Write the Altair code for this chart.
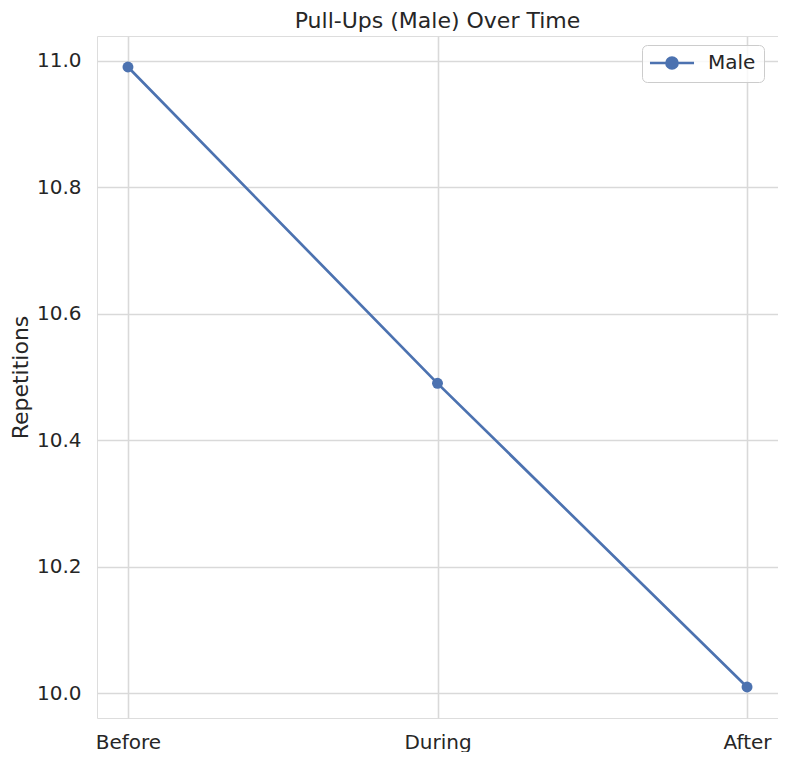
import altair as alt
import pandas as pd

phases = ["Before", "During", "After"]
values = [10.99, 10.49, 10.01]
series = ["Male", "Male", "Male"]
y_ticks = [10.0, 10.2, 10.4, 10.6, 10.8, 11.0]

df = pd.DataFrame({"Phase": phases, "Repetitions": values, "Series": series})

BLUE = "#4c72b0"
FONT = "DejaVu Sans"
TXT = "#262626"

x = alt.X("Phase:N", sort=phases, title=None,
          scale=alt.Scale(type="point", padding=0.1),
          axis=alt.Axis(labelAngle=0, ticks=False, domain=False, labelPadding=14,
                        labelFontSize=20, labelColor=TXT, labelFont=FONT,
                        grid=True, gridColor="#d9d9d9", gridWidth=1.6))
y = alt.Y("Repetitions:Q", title="Repetitions",
          scale=alt.Scale(domain=[9.961, 11.039], nice=False, zero=False),
          axis=alt.Axis(values=y_ticks, format=".1f", ticks=False, domain=False,
                        labelPadding=16, labelFontSize=20, labelColor=TXT, labelFont=FONT,
                        titleFontSize=22, titleFont=FONT, titleColor=TXT,
                        titleFontWeight="normal", titlePadding=4,
                        grid=True, gridColor="#d9d9d9", gridWidth=1.6))

sym = ("M-1.67,0L5.67,0"
       "M1.08,0A0.92,0.92 0 1,1 2.92,0A0.92,0.92 0 1,1 1.08,0Z")
color = alt.Color("Series:N", scale=alt.Scale(range=[BLUE]),
                  legend=alt.Legend(title=None, orient="none", legendX=545, legendY=9,
                                    symbolType=sym, symbolSize=144,
                                    symbolStrokeWidth=2.7, symbolFillColor=BLUE,
                                    symbolStrokeColor=BLUE,
                                    labelFontSize=20, labelFont=FONT, labelColor=TXT,
                                    labelOffset=38, padding=8, cornerRadius=5,
                                    strokeColor="#cccccc", fillColor="rgba(255,255,255,0.8)"))

line = alt.Chart(df).mark_line(strokeWidth=2.7).encode(x=x, y=y, color=color)
pts = alt.Chart(df).mark_point(filled=True, size=120, opacity=1).encode(x=x, y=y, color=color)

chart = alt.layer(line, pts).properties(
    width=681, height=682,
    autosize="none",
    padding={"left": 89, "top": 28, "right": 0, "bottom": 34},
    title=alt.TitleParams("Pull-Ups (Male) Over Time", font=FONT, fontSize=22,
                          fontWeight="normal", color=TXT, anchor="middle", offset=3),
).configure_view(stroke="#cccccc", strokeWidth=2.2).configure(background="white")

chart.save("out.html", embed_options={"renderer": "svg", "actions": False})
